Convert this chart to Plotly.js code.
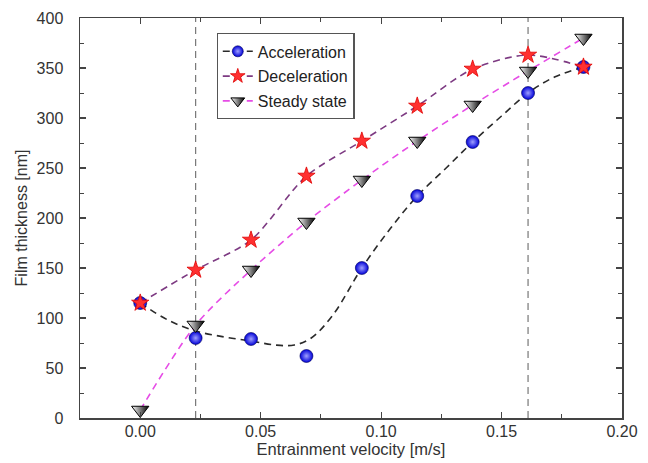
<!DOCTYPE html>
<html>
<head>
<meta charset="utf-8">
<script src="https://cdn.plot.ly/plotly-3.0.1.min.js"></script>
<style>html,body{margin:0;padding:0;background:#fff}#chart{width:648px;height:463px}</style>
</head>
<body>
<div id="chart"></div>
<script>
// Entrainment velocity [m/s] of the measured points
const velocity = [0, 0.023, 0.046, 0.069, 0.092, 0.115, 0.138, 0.161, 0.184];
// Film thickness [nm]
const acceleration = [115, 80, 79, 62, 150, 222, 276, 325, 351];
const deceleration = [115, 148, 178, 242, 277, 312, 349, 363, 351];
const steadyState  = [8, 93, 148, 196, 238, 277, 313, 347, 380];

// Dashed fitted curve of the acceleration series
const accelFitX = [0, 0.0115, 0.023, 0.035, 0.046, 0.056, 0.064, 0.071, 0.08, 0.092, 0.104, 0.115, 0.127, 0.138, 0.15, 0.161, 0.172, 0.184];
const accelFitY = [115, 98, 87, 81, 77, 73, 73, 80, 103, 150, 190, 222, 250, 276, 302, 325, 341, 351];

// Vertical reference lines
const refLines = [0.023, 0.161];

const seriesNames = ['Acceleration', 'Deceleration', 'Steady state'];
const xTitle = 'Entrainment velocity [m/s]';
const yTitle = 'Film thickness [nm]';

const FONT = 'Liberation Sans, Arial, sans-serif';
const accelMarker = {symbol: 'circle', size: 13, color: '#0000d8', gradient: {type: 'radial', color: '#a0a0ff'}, line: {color: '#00005a', width: 0.6}};
const decelMarker = {symbol: 'star', size: 13, color: '#ff3030', line: {color: '#e00000', width: 0.8}};
const steadyMarker = {symbol: 'triangle-down', size: 15, color: '#ffffff', gradient: {type: 'horizontal', color: '#000000'}, line: {color: '#000000', width: 1}};
const accelLine = {color: '#2a2a2a', width: 1.6, dash: '7px,5px'};
const decelLine = {color: '#7d3a82', width: 1.6, dash: '7px,5px'};
const steadyLine = {color: '#e64ce6', width: 1.6, dash: '7px,5px'};

const traces = [
  {x: accelFitX, y: accelFitY, mode: 'lines', line: Object.assign({shape: 'spline', smoothing: 1}, accelLine), showlegend: false, hoverinfo: 'skip'},
  {x: velocity, y: deceleration, mode: 'lines', line: Object.assign({shape: 'spline', smoothing: 0.8}, decelLine), showlegend: false, hoverinfo: 'skip'},
  {x: velocity, y: steadyState, mode: 'lines', line: Object.assign({shape: 'spline', smoothing: 0.8}, steadyLine), showlegend: false, hoverinfo: 'skip'},
  {x: velocity, y: acceleration, mode: 'markers', marker: accelMarker, showlegend: false},
  {x: velocity, y: deceleration, mode: 'markers', marker: decelMarker, showlegend: false},
  {x: velocity, y: steadyState, mode: 'markers', marker: steadyMarker, showlegend: false},
  {x: [null], y: [null], name: seriesNames[0], legendgroup: 'a', mode: 'lines+markers', line: accelLine, marker: Object.assign({}, accelMarker, {size: 11})},
  {x: [null], y: [null], name: seriesNames[1], legendgroup: 'b', mode: 'lines+markers', line: decelLine, marker: Object.assign({}, decelMarker, {size: 11})},
  {x: [null], y: [null], name: seriesNames[2], legendgroup: 'c', mode: 'lines+markers', line: steadyLine, marker: Object.assign({}, steadyMarker, {size: 12})}
];

const axisCommon = {
  showgrid: false, zeroline: false, showline: true, linecolor: '#444', linewidth: 1.5,
  mirror: 'ticks', ticks: 'inside', ticklen: 6, tickwidth: 1.2, tickcolor: '#444',
  tickfont: {family: FONT, size: 16, color: '#333'}
};

const layout = {
  width: 648, height: 463,
  margin: {l: 80, r: 26, t: 18, b: 45},
  paper_bgcolor: '#fff', plot_bgcolor: '#fff',
  font: {family: FONT, color: '#333'},
  xaxis: Object.assign({}, axisCommon, {
    range: [-0.025, 0.2], dtick: 0.05, tick0: 0, tickformat: '.2f',
    minor: {dtick: 0.025, ticks: 'inside', ticklen: 4, tickcolor: '#444', tickwidth: 1},
    ticklabelstandoff: -2,
    title: {text: xTitle, font: {family: FONT, size: 16.5, color: '#333'}, standoff: 2}
  }),
  yaxis: Object.assign({}, axisCommon, {
    range: [0, 400], dtick: 50, tick0: 0,
    minor: {dtick: 25, ticks: 'inside', ticklen: 4, tickcolor: '#444', tickwidth: 1},
    ticklabelstandoff: 12,
    title: {text: yTitle, font: {family: FONT, size: 16, color: '#333'}, standoff: 5}
  }),
  shapes: refLines.map(v => ({type: 'line', xref: 'x', yref: 'paper', x0: v, x1: v, y0: 0, y1: 1, line: {color: '#777', width: 1.2, dash: '7px,5px'}, layer: 'below'})),
  legend: {
    x: 0.252, y: 0.962, xanchor: 'left', yanchor: 'top',
    bgcolor: '#fff', bordercolor: '#555', borderwidth: 1.2,
    font: {family: FONT, size: 16, color: '#222'},
    traceorder: 'grouped', tracegroupgap: 1
  }
};

Plotly.newPlot('chart', traces, layout, {staticPlot: true, displayModeBar: false});
</script>
</body>
</html>
